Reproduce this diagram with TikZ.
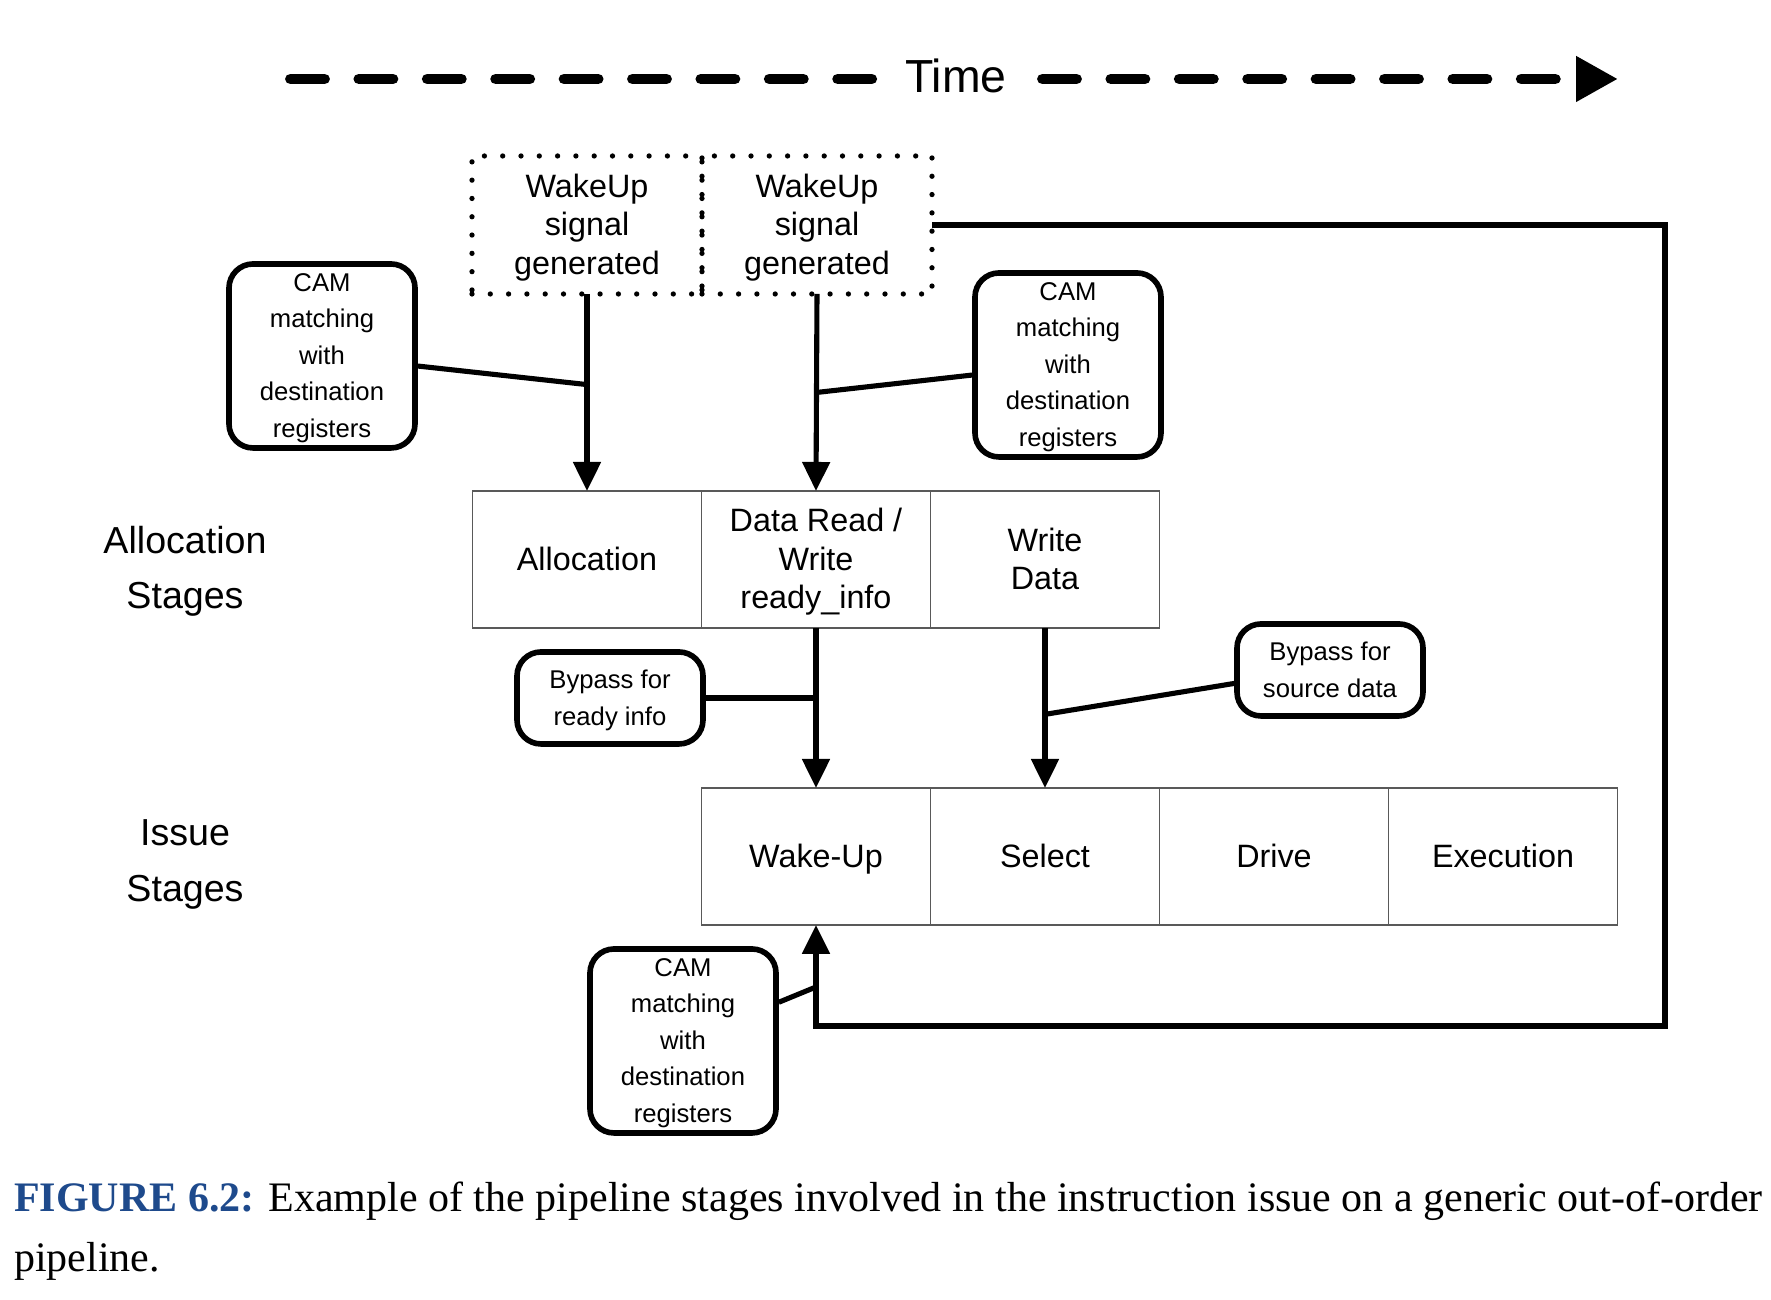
\documentclass[tikz,border=0pt]{standalone}
\usepackage{fontspec}
\setsansfont{Liberation Sans}
\newfontfamily\capfont{Liberation Serif}
\usetikzlibrary{arrows.meta,positioning,calc}
\definecolor{capblue}{RGB}{30,74,140}

\begin{document}
\begin{tikzpicture}[>={Triangle[length=2.9mm,width=2.7mm]}, every node/.style={font=\sffamily},
  stg/.style={draw=black!65, line width=0.5pt, minimum width=2.29cm, minimum height=1.37cm, inner sep=0pt, outer sep=0pt, align=center, text depth=0.5pt, font=\sffamily\fontsize{9.2}{10.9}\selectfont},
  wu/.style={stg, draw=black, line width=1.5pt, line cap=round, dash pattern=on 0pt off 1.83mm, minimum width=2.3cm, minimum height=1.38cm},
  cam/.style={draw, line width=1.6pt, rounded corners=2.4mm, minimum width=1.86cm, minimum height=1.84cm, inner sep=0pt, align=center, text depth=0.3pt, font=\sffamily\fontsize{7.3}{10.4}\selectfont},
  byp/.style={cam, minimum height=0.92cm},
  lbl/.style={align=center, font=\sffamily\fontsize{10.7}{15.7}\selectfont},
  ln/.style={line width=1.45pt},
  tdash/.style={line width=3.1pt, line cap=round, dash pattern=on 3.4mm off 3.44mm}]
  \useasboundingbox (0,0) rectangle (17.71,13);
  \node[font=\sffamily\fontsize{13.2}{15}\selectfont] (time) at (9.56,12.24) {Time};
  \coordinate (tl) at (2.905,12.21); \coordinate (tm1) at (8.95,12.21);
  \coordinate (tm2) at (10.425,12.21); \coordinate (tr) at (16.18,12.21);
  \draw[tdash] (tl) -- (tm1);
  \draw[tdash, -{Triangle[length=4.2mm,width=4.3mm]}] (tm2) -- (tr);
  \node[wu] (wu1) at (5.87,10.75) {WakeUp\\signal\\generated};
  \node[wu, right=0pt of wu1] (wu2) {WakeUp\\signal\\generated};
  \node[stg] (alloc) at (5.87,7.405) {Allocation};
  \node[stg, right=0pt of alloc] (drw) {Data Read /\\Write\\ready\_info};
  \node[stg, right=0pt of drw] (wd) {Write\\Data};
  \node[stg, below=1.6cm of drw] (wake) {Wake-Up};
  \node[stg, right=0pt of wake] (sel) {Select};
  \node[stg, right=0pt of sel] (drv) {Drive};
  \node[stg, right=0pt of drv] (exe) {Execution};
  \node[lbl] (alst) at (1.85,7.29) {Allocation\\Stages};
  \node[lbl] (isst) at (1.85,4.355) {Issue\\Stages};
  \node[cam] (cam1) at (3.22,9.44) {CAM\\matching\\with\\destination\\registers};
  \node[cam] (cam2) at (10.68,9.35) {CAM\\matching\\with\\destination\\registers};
  \node[cam] (cam3) at (6.83,2.59) {CAM\\matching\\with\\destination\\registers};
  \node[byp] (byp1) at (6.10,6.02) {Bypass for\\ready info};
  \node[byp] (byp2) at (13.30,6.30) {Bypass for\\source data};
  \coordinate (j1) at ($(wu1.south)!0.46!(alloc.north)$);
  \coordinate (j2) at ($(wu2.south)!0.5!(drw.north)$);
  \coordinate (j3) at ($(wd.south)!0.54!(sel.north)$);
  \coordinate (j4) at ($(wake.south)+(0,-0.62)$);
  \coordinate (fb) at (16.65,2.74);
  \draw[ln,->] (wu1.south) -- (alloc.north);
  \draw[ln,->] (wu2.south) -- (drw.north);
  \draw[ln] (cam1.-6) -- (j1);
  \draw[ln] (cam2.186) -- (j2);
  \draw[ln,->] (drw.south) -- (wake.north);
  \draw[ln,->] (wd.south) -- (sel.north);
  \draw[ln] (byp1.east) -- (byp1.east -| drw.south);
  \draw[ln] (byp2.188) -- (j3);
  \draw[ln,->] (wu2.east) -| (fb) -| (wake.south);
  \draw[ln] (cam3.22) -- (j4);
  \node[anchor=north west, align=left, inner sep=0pt, font=\capfont\fontsize{11.95}{17.2}\selectfont] (cap) at (0.136,1.19) {\textcolor{capblue}{\textbf{FIGURE 6.2:}} Example of the pipeline stages involved in the instruction issue on a generic out-of-order\\pipeline.};
\end{tikzpicture}
\end{document}
